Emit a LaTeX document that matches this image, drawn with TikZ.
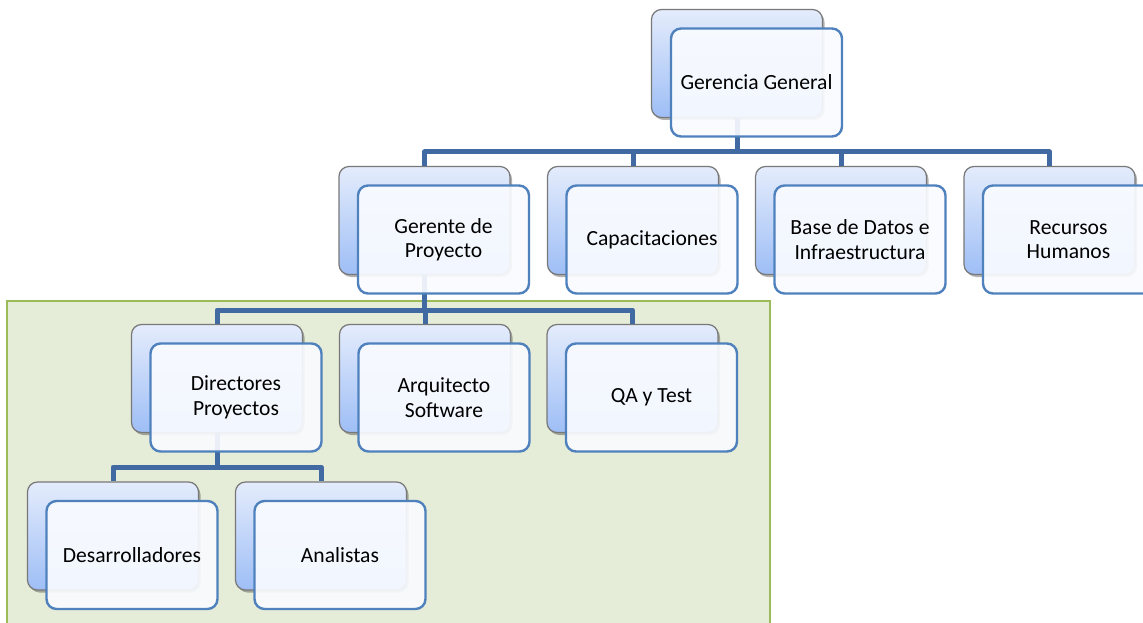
\documentclass[tikz,border=0pt]{standalone}
\usepackage{fontspec}
\setmainfont{Carlito}
\usetikzlibrary{shadows}
\definecolor{conncol}{RGB}{66,106,162}
\definecolor{bordergray}{RGB}{120,120,120}
\definecolor{backtop}{RGB}{228,236,252}
\definecolor{backbot}{RGB}{158,190,246}
\definecolor{frontblue}{RGB}{79,129,189}
\definecolor{frontfill}{RGB}{249,251,255}
\definecolor{greenfill}{RGB}{229,236,215}
\definecolor{greenline}{RGB}{155,187,89}
\begin{document}
\begin{tikzpicture}[x=1pt,y=-1pt,
  backbox/.style={draw=bordergray, line width=1.2pt, rounded corners=10pt,
    top color=backtop, bottom color=backbot, minimum width=171pt,
    minimum height=108pt, inner sep=0pt,
    drop shadow={shadow xshift=2pt, shadow yshift=-2.5pt, opacity=0.3, fill=black}},
  frontbox/.style={draw=frontblue, line width=2.4pt, rounded corners=10pt,
    fill=frontfill, fill opacity=0.92, text opacity=1, minimum width=171pt,
    minimum height=108pt, inner sep=0pt, align=center,
    font=\fontsize{21.6}{24.5}\selectfont},
  link/.style={draw=conncol, line width=5pt, line join=round}]
\useasboundingbox (0,0) rectangle (1143,623);
\clip (0,0) rectangle (1143,623);
\fill[white] (0,0) rectangle (1143,623);
% green area
\draw[draw=greenline, fill=greenfill, line width=1.6pt] (7,301) rectangle (770,640);
% back boxes
\node[backbox] (ggb) at (737,63.5) {};
\node[backbox] (gpb) at (424.5,220.5) {};
\node[backbox] (capb) at (633,220.5) {};
\node[backbox] (bdb) at (841,220.5) {};
\node[backbox] (rhb) at (1049.5,220.5) {};
\node[backbox] (dpb) at (217,378.5) {};
\node[backbox] (asb) at (425,378.5) {};
\node[backbox] (qab) at (632.5,378.5) {};
\node[backbox] (deb) at (113,536) {};
\node[backbox] (anb) at (321,536) {};
% bars
\coordinate (bar1) at (0,152);
\coordinate (bar2) at (0,310);
\coordinate (bar3) at (0,467);
% connectors
\foreach \c in {gpb,capb,bdb,rhb}
  \draw[link] (ggb.south) -- (ggb.south |- bar1) -| (\c.north);
\foreach \c in {dpb,asb,qab}
  \draw[link] (gpb.south) -- (gpb.south |- bar2) -| (\c.north);
\foreach \c in {deb,anb}
  \draw[link] (dpb.south) -- (dpb.south |- bar3) -| (\c.north);
% front boxes
\node[frontbox] (gg) at (756.5,82.5) {Gerencia General};
\node[frontbox] (gp) at (443.5,239.5) {Gerente de\\Proyecto};
\node[frontbox] (cap) at (652,239.5) {Capacitaciones};
\node[frontbox] (bd) at (860,239.5) {Base de Datos e\\Infraestructura};
\node[frontbox] (rh) at (1068.5,239.5) {Recursos\\Humanos};
\node[frontbox] (dp) at (236,397.5) {Directores\\Proyectos};
\node[frontbox] (as) at (444,397.5) {Arquitecto\\Software};
\node[frontbox] (qa) at (651.5,397.5) {QA y Test};
\node[frontbox] (de) at (132,555) {Desarrolladores};
\node[frontbox] (an) at (340,555) {Analistas};
\end{tikzpicture}
\end{document}
